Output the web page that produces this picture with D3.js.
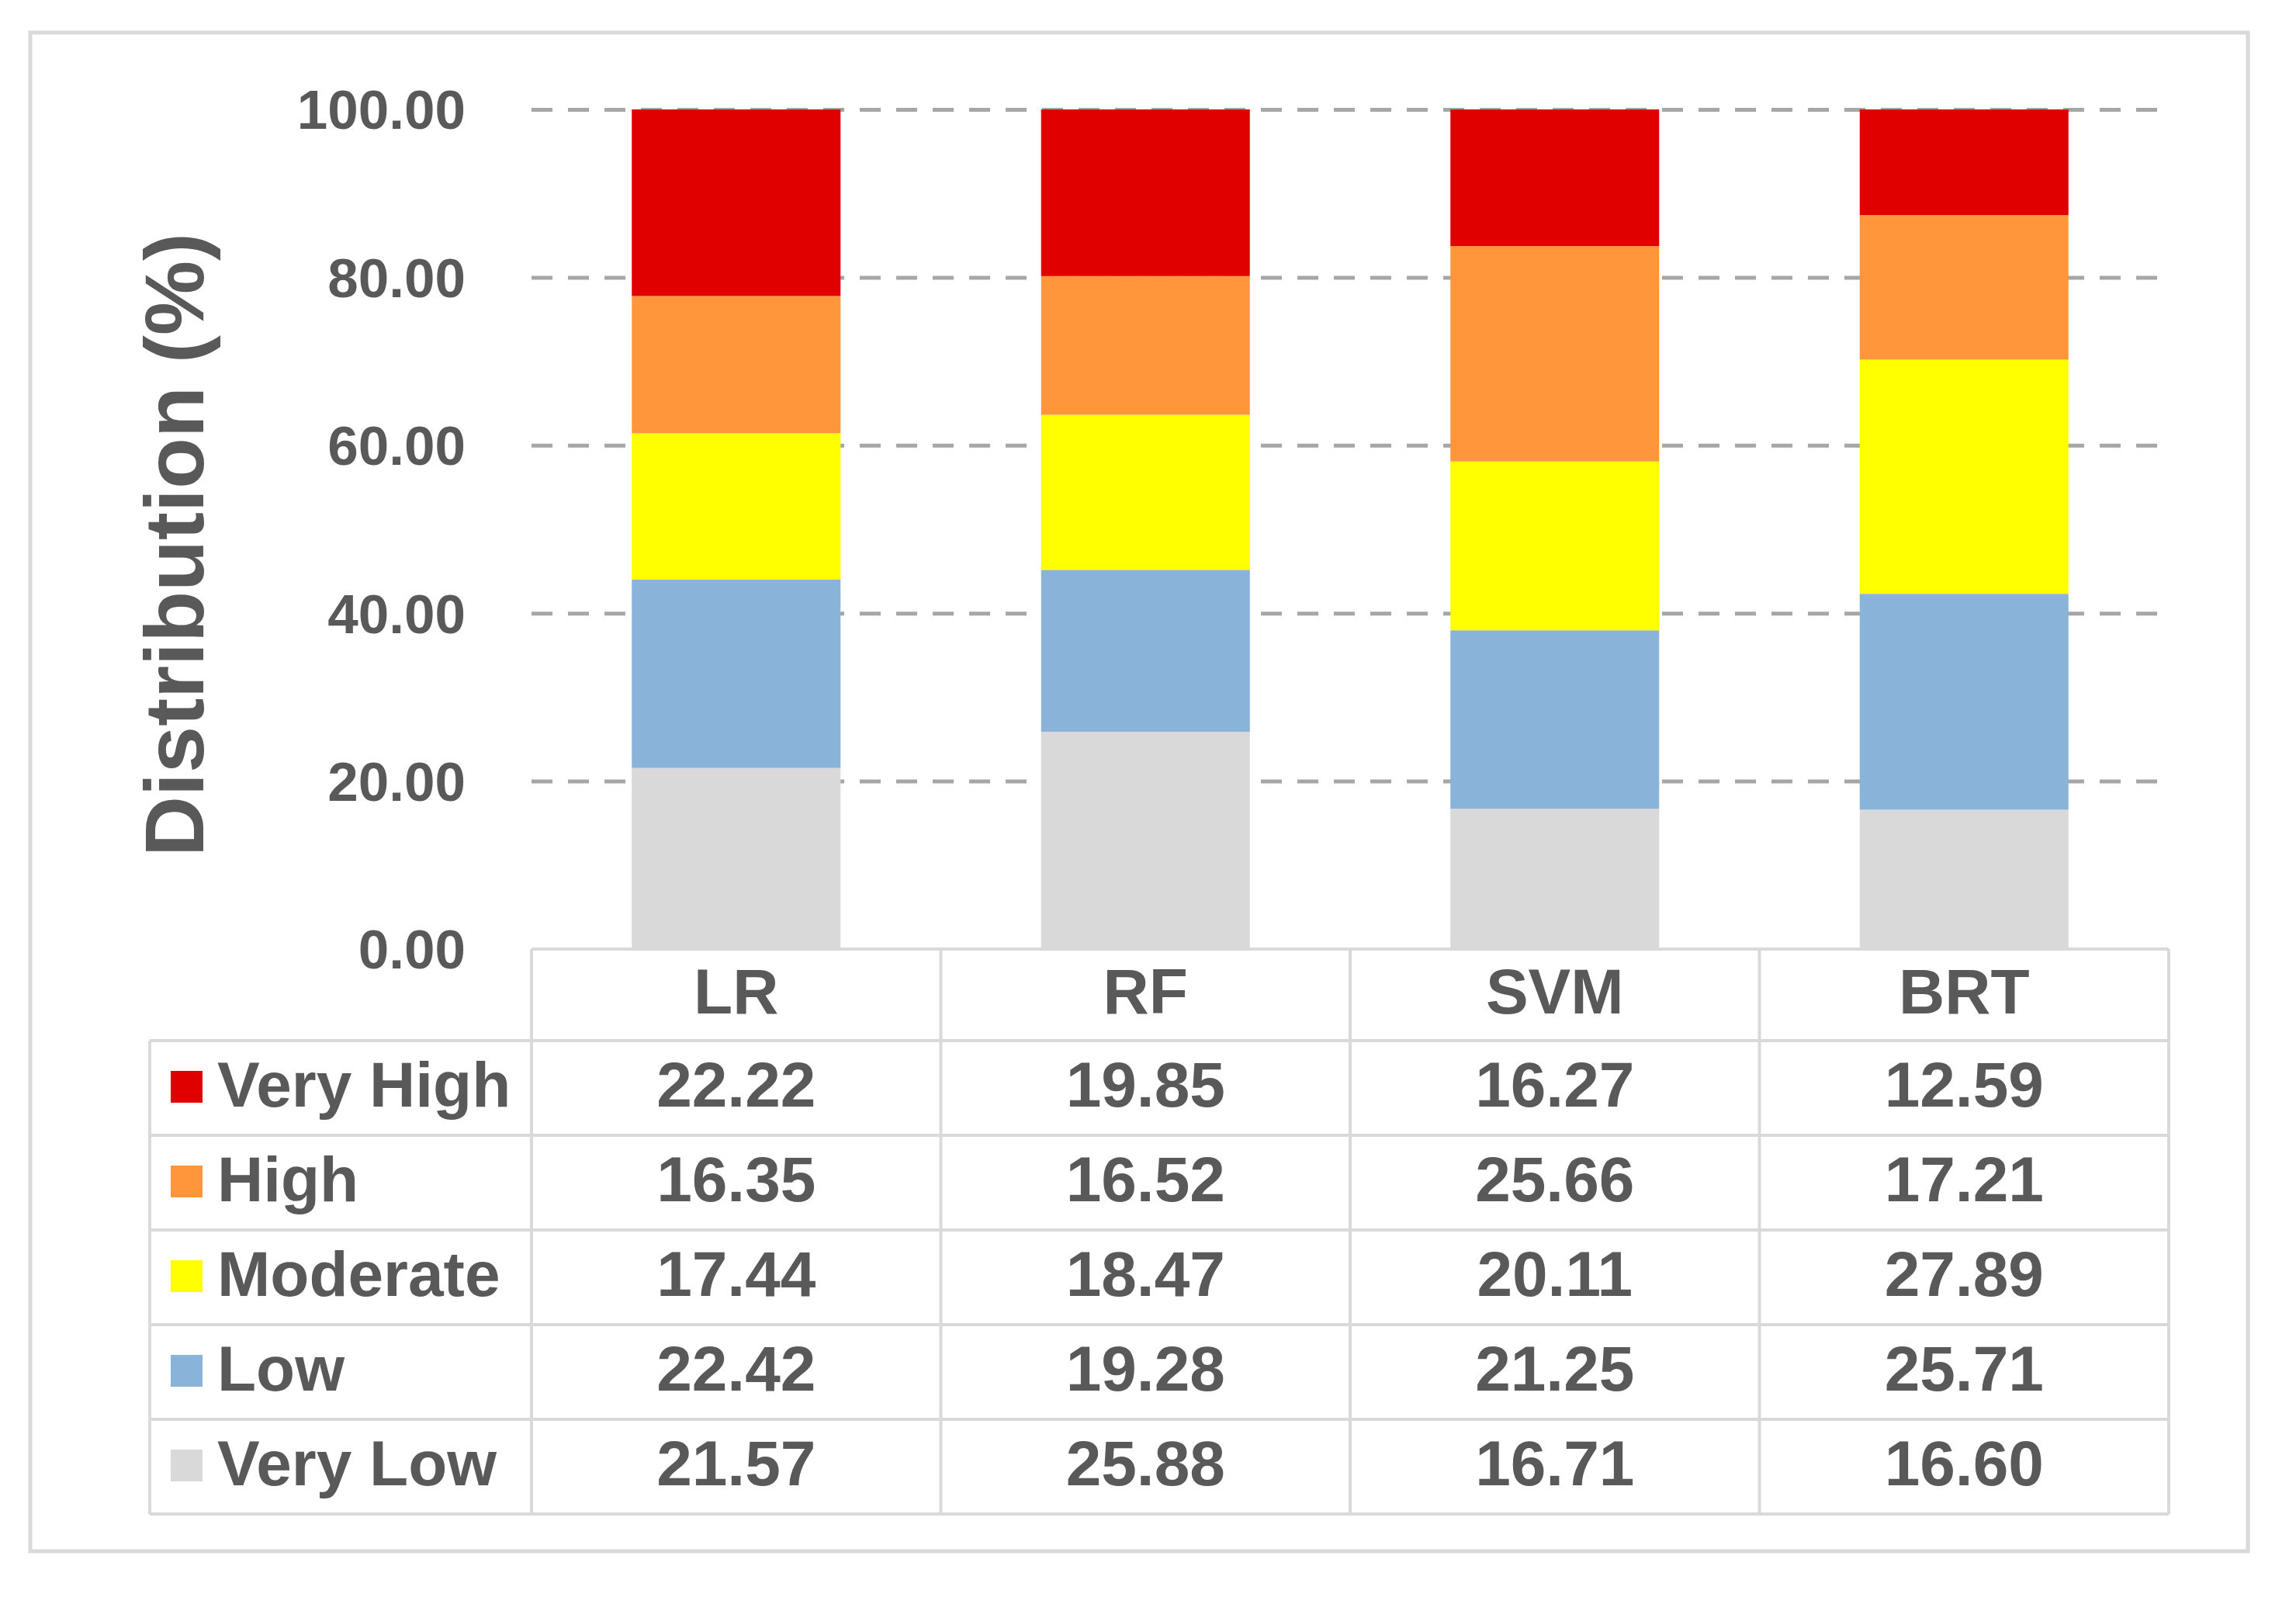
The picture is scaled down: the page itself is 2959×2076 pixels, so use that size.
<!DOCTYPE html>
<html>
<head>
<meta charset="utf-8">
<script src="https://cdn.jsdelivr.net/npm/d3@7"></script>
<style>
  body { margin: 0; background: #fff; }
  text { font-family: "Liberation Sans", Arial, sans-serif; font-weight: bold; fill: #595959; }
</style>
</head>
<body>
<svg id="chart" width="2959" height="2076"></svg>
<script>
// data
const models = ['LR', 'RF', 'SVM', 'BRT'];
const classes = ['Very High', 'High', 'Moderate', 'Low', 'Very Low'];
const veryHigh = [22.22, 19.85, 16.27, 12.59];
const high     = [16.35, 16.52, 25.66, 17.21];
const moderate = [17.44, 18.47, 20.11, 27.89];
const low      = [22.42, 19.28, 21.25, 25.71];
const veryLow  = [21.57, 25.88, 16.71, 16.60];
const yTicks = [0, 20, 40, 60, 80, 100];
const colors = ['#e00000', '#ff963c', '#ffff00', '#89b3d9', '#d9d9d9'];

const seriesValues = [veryHigh, high, moderate, low, veryLow];

// table-like rows, one object per model
const rows = models.map((m, i) => {
  const r = { model: m };
  classes.forEach((c, j) => { r[c] = seriesValues[j][i]; });
  return r;
});

const svg = d3.select('#chart');

const plotLeft = 685, plotRight = 2795;
const plotTop = 141, plotBase = 1223;
const tableLeft = 193;
const tableBottom = 1951;
const gridColor = '#d9d9d9';

// outer frame
svg.append('rect')
  .attr('x', 39).attr('y', 42)
  .attr('width', 2858).attr('height', 1957)
  .attr('fill', 'none')
  .attr('stroke', gridColor)
  .attr('stroke-width', 5);

const xScale = d3.scaleBand()
  .domain(models)
  .range([plotLeft, plotRight])
  .paddingInner(0.49)
  .paddingOuter(0.245);

const colScale = d3.scaleBand()
  .domain(models)
  .range([plotLeft, plotRight]);

const yScale = d3.scaleLinear()
  .domain([0, 100])
  .range([plotBase, plotTop]);

const color = d3.scaleOrdinal().domain(classes).range(colors);

// dashed grid (no line at 0, the table edge sits there)
svg.append('g')
  .attr('class', 'grid')
  .attr('transform', `translate(${plotLeft}, 0)`)
  .call(d3.axisLeft(yScale)
    .tickValues(yTicks.filter(d => d > 0))
    .tickSize(-(plotRight - plotLeft))
    .tickFormat(''))
  .call(g => g.select('.domain').remove())
  .call(g => g.selectAll('line')
    .attr('stroke', '#a6a6a6')
    .attr('stroke-width', 5)
    .attr('stroke-dasharray', '27,20'));

// y axis labels
svg.append('g')
  .attr('transform', `translate(${plotLeft}, 0)`)
  .call(d3.axisLeft(yScale)
    .tickValues(yTicks)
    .tickSize(0)
    .tickPadding(85)
    .tickFormat(d3.format('.2f')))
  .call(g => g.select('.domain').remove())
  .call(g => g.selectAll('text')
    .attr('font-size', 71)
    .attr('font-family', '"Liberation Sans", Arial, sans-serif')
    .attr('font-weight', 'bold')
    .attr('fill', '#595959')
    .attr('dy', '0.35em'));

svg.append('text')
  .attr('transform', 'translate(262, 702) rotate(-90)')
  .attr('text-anchor', 'middle')
  .attr('font-size', 108)
  .text('Distribution (%)');

// stacked bars, bottom = Very Low
const stackOrder = classes.slice().reverse();
const stacked = d3.stack().keys(stackOrder)(rows);

svg.append('g')
  .selectAll('g')
  .data(stacked)
  .join('g')
  .attr('fill', d => color(d.key))
  .selectAll('rect')
  .data(d => d)
  .join('rect')
  .attr('x', d => xScale(d.data.model))
  .attr('y', d => yScale(d[1]))
  .attr('height', d => yScale(d[0]) - yScale(d[1]))
  .attr('width', xScale.bandwidth());

// data table
const rowScale = d3.scaleBand()
  .domain(classes)
  .range([1341, tableBottom]);

const table = svg.append('g')
  .attr('stroke', gridColor)
  .attr('stroke-width', 4);

// top line of header row
table.append('line')
  .attr('x1', plotLeft).attr('x2', plotRight)
  .attr('y1', plotBase).attr('y2', plotBase);

// horizontal row lines
table.selectAll('.hline')
  .data(classes.concat(['end']))
  .join('line')
  .attr('x1', tableLeft).attr('x2', plotRight)
  .attr('y1', d => d === 'end' ? tableBottom : rowScale(d))
  .attr('y2', d => d === 'end' ? tableBottom : rowScale(d));

// vertical column lines
const colEdges = models.map(m => colScale(m)).concat([plotRight]);
table.selectAll('.vline')
  .data(colEdges)
  .join('line')
  .attr('x1', d => d).attr('x2', d => d)
  .attr('y1', plotBase).attr('y2', tableBottom);

table.append('line')
  .attr('x1', tableLeft).attr('x2', tableLeft)
  .attr('y1', rowScale(classes[0])).attr('y2', tableBottom);

const fs = 82;
const capOff = 24;

// header labels
svg.append('g')
  .selectAll('text')
  .data(models)
  .join('text')
  .attr('x', d => colScale(d) + colScale.bandwidth() / 2)
  .attr('y', (plotBase + 1341) / 2 + capOff)
  .attr('text-anchor', 'middle')
  .attr('font-size', fs)
  .text(d => d);

// legend keys + labels
const legend = svg.append('g')
  .selectAll('g')
  .data(classes)
  .join('g')
  .attr('transform', d => `translate(0, ${rowScale(d) + rowScale.bandwidth() / 2})`);

legend.append('rect')
  .attr('x', 220).attr('y', -22)
  .attr('width', 41).attr('height', 41)
  .attr('fill', d => color(d));

legend.append('text')
  .attr('x', 280)
  .attr('y', capOff)
  .attr('font-size', fs)
  .text(d => d);

// values
classes.forEach((c, j) => {
  svg.append('g')
    .selectAll('text')
    .data(rows)
    .join('text')
    .attr('x', d => colScale(d.model) + colScale.bandwidth() / 2)
    .attr('y', rowScale(c) + rowScale.bandwidth() / 2 + capOff)
    .attr('text-anchor', 'middle')
    .attr('font-size', fs)
    .text(d => d[c].toFixed(2));
});
</script>
</body>
</html>
